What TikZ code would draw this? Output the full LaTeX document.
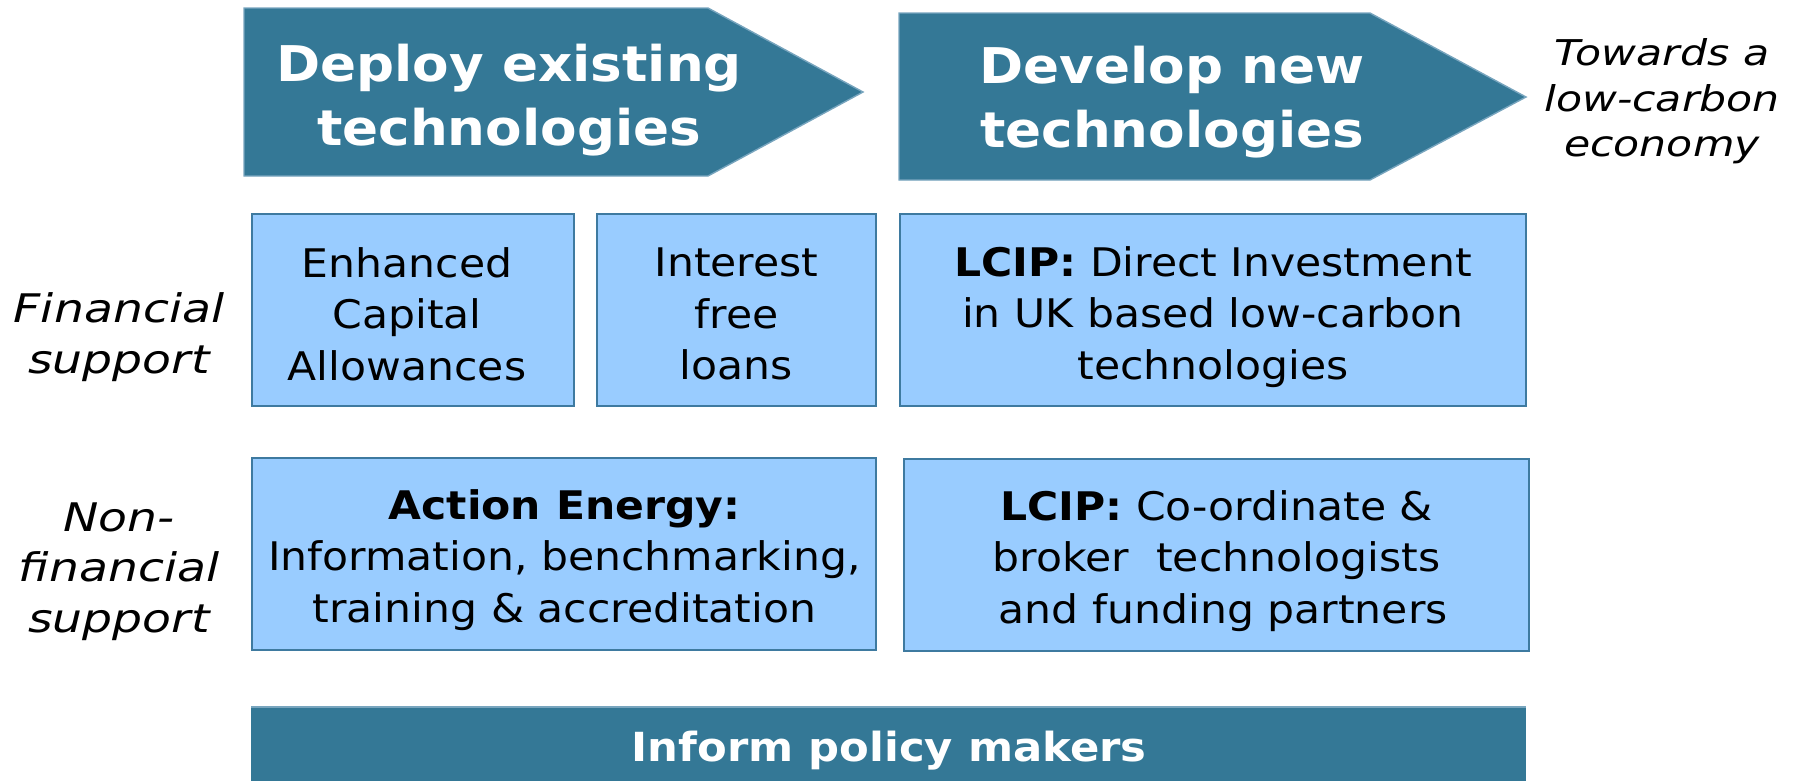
\documentclass[tikz,border=0pt]{standalone}
\usepackage{fontspec}
\setmainfont{DejaVu Sans}[FakeStretch=1.08]
\newfontfamily\sidefont{DejaVu Sans}[FakeStretch=1.2]
\definecolor{stageblue}{RGB}{52,120,150}
\definecolor{stageedge}{RGB}{120,165,190}
\definecolor{cellblue}{RGB}{153,204,255}
\definecolor{celledge}{RGB}{62,122,160}
\tikzset{stage/.style={fill=stageblue,draw=stageedge,line width=0.4pt},
  stagetext/.style={text=white,align=center,font=\fontsize{14pt}{18.2pt}\selectfont\bfseries},
  cell/.style={draw=celledge,fill=cellblue,line width=0.6pt},
  celltext/.style={align=center,font=\fontsize{11.2pt}{14.6pt}\selectfont},
  side/.style={align=center,font=\sidefont\itshape\fontsize{11.2pt}{14.4pt}\selectfont},
  bartext/.style={text=white,font=\fontsize{11.4pt}{14pt}\selectfont\bfseries}}

\begin{document}
\begin{tikzpicture}[x=0.01cm,y=-0.01cm]
  \useasboundingbox (0,0) rectangle (1799,781);

  % stages
  \filldraw[stage] (244,8) -- (708,8) -- (863,92) -- (708,176) -- (244,176) -- cycle;
  \filldraw[stage] (899,13) -- (1370,13) -- (1526,97) -- (1370,180) -- (899,180) -- cycle;
  \node[stagetext] (deploy) at (509,100) {Deploy existing\\technologies};
  \node[stagetext] (develop) at (1172,102) {Develop new\\technologies};
  \node[side,font=\sidefont\itshape\fontsize{10.1pt}{12.9pt}\selectfont] (towards) at (1662,101.5)
    {Towards a\\low-carbon\\economy};

  % row labels
  \node[side] (fin) at (119,337) {Financial\\support};
  \node[side] (nonfin) at (119,571.5) {Non-\\financial\\support};

  % support boxes
  \filldraw[cell] (252,214) rectangle (574,406);
  \filldraw[cell] (597,214) rectangle (876,406);
  \filldraw[cell] (900,214) rectangle (1526,406);
  \filldraw[cell] (252,458) rectangle (876,650);
  \filldraw[cell] (904,459) rectangle (1529,651);
  \node[celltext] (eca) at (407,314) {Enhanced\\Capital\\Allowances};
  \node[celltext] (loans) at (736.5,314) {Interest\\free\\loans};
  \node[celltext] (invest) at (1213,317)
    {\textbf{LCIP:} Direct Investment\\in UK based low-carbon\\technologies};
  \node[celltext] (action) at (564.5,560)
    {\textbf{Action Energy:}\\Information, benchmarking,\\training \& accreditation};
  \node[celltext] (broker) at (1216.5,561)
    {\textbf{LCIP:} Co-ordinate \&\\broker\ \ technologists\\\ and funding partners};

  % policy bar
  \fill[stageblue] (251,707) rectangle (1526,781);
  \draw[stageedge,line width=0.6pt] (251,707) -- (1526,707);
  \node[bartext] (policy) at (889,751) {Inform policy makers};
\end{tikzpicture}
\end{document}
